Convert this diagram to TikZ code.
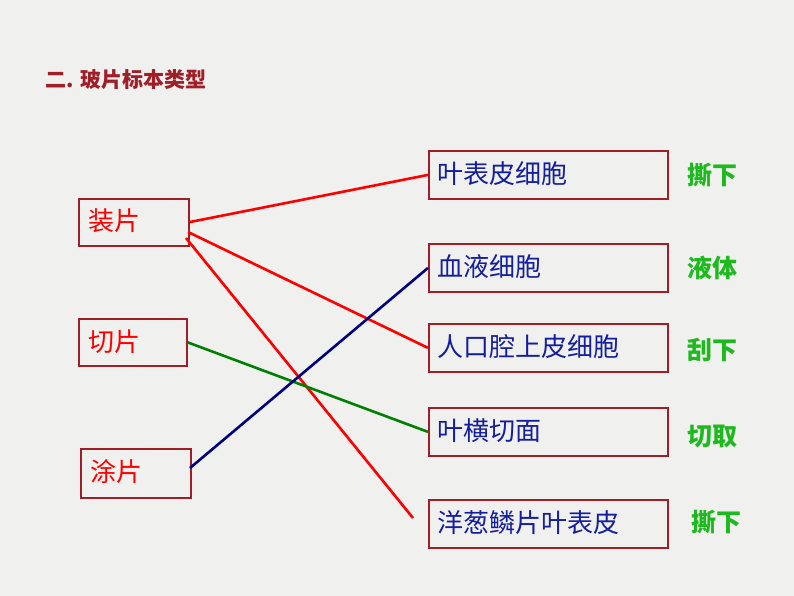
\documentclass[tikz,border=0pt]{standalone}
\usepackage{fontspec}
\setmainfont{Noto Sans CJK SC}
\begin{document}
\begin{tikzpicture}[x=1pt,y=-1pt,
  box/.style={draw=boxred,line width=1.8pt,anchor=north west,inner sep=0pt},
  lab/.style={text=labgreen,font=\fontsize{25}{28}\selectfont\bfseries},
  link/.style={line width=2.6pt}]
\definecolor{boxred}{RGB}{160,30,40}
\definecolor{labgreen}{RGB}{30,185,30}
\definecolor{bg}{RGB}{240,240,238}
\useasboundingbox (0,0) rectangle (794,596);
\fill[bg] (0,0) rectangle (794,596);
\node[anchor=west,text=boxred,font=\fontsize{21}{24}\selectfont\bfseries] (t) at (42,80) {二. 玻片标本类型};
\node[box,minimum width=110pt,minimum height=47pt] (z) at (78,198) {};
\node[text=red,font=\fontsize{26}{28}\selectfont] (zt) at (114,221) {装片};
\node[box,minimum width=108pt,minimum height=47pt] (q) at (78,318) {};
\node[text=red,font=\fontsize{26}{28}\selectfont] (qt) at (114,342) {切片};
\node[box,minimum width=110pt,minimum height=49pt] (tu) at (80,448) {};
\node[text=red,font=\fontsize{26}{28}\selectfont] (tut) at (116,472) {涂片};
\foreach \n/\y/\s in {a/150/叶表皮细胞,b/243/血液细胞,c/323/人口腔上皮细胞,d/407/叶横切面,e/499/洋葱鳞片叶表皮}{
  \node[box,minimum width=239pt,minimum height=48pt] (\n) at (428,\y) {};
  \node[anchor=west,text={rgb,255:red,20;green,30;blue,160},font=\fontsize{26}{28}\selectfont] (\n t) at (434,\y+24) {\s};
}
\node[lab] (la) at (712,175) {撕下};
\node[lab] (lb) at (712,268) {液体};
\node[lab] (lc) at (712,350) {刮下};
\node[lab] (ld) at (712,437) {切取};
\node[lab] (le) at (716,522) {撕下};
\coordinate (z1) at (190,222); \coordinate (z2) at (188,232); \coordinate (z3) at (186,238);
\coordinate (e1) at (413,518);
\draw[link,red] (z1) -- (a.west);
\draw[link,red] (z2) -- (c.west);
\draw[link,red] (z3) -- (e1);
\draw[link,green!50!black] (q.east) -- (d.west);
\draw[link,blue!50!black] (190,468) -- (b.west);
\end{tikzpicture}
\end{document}
